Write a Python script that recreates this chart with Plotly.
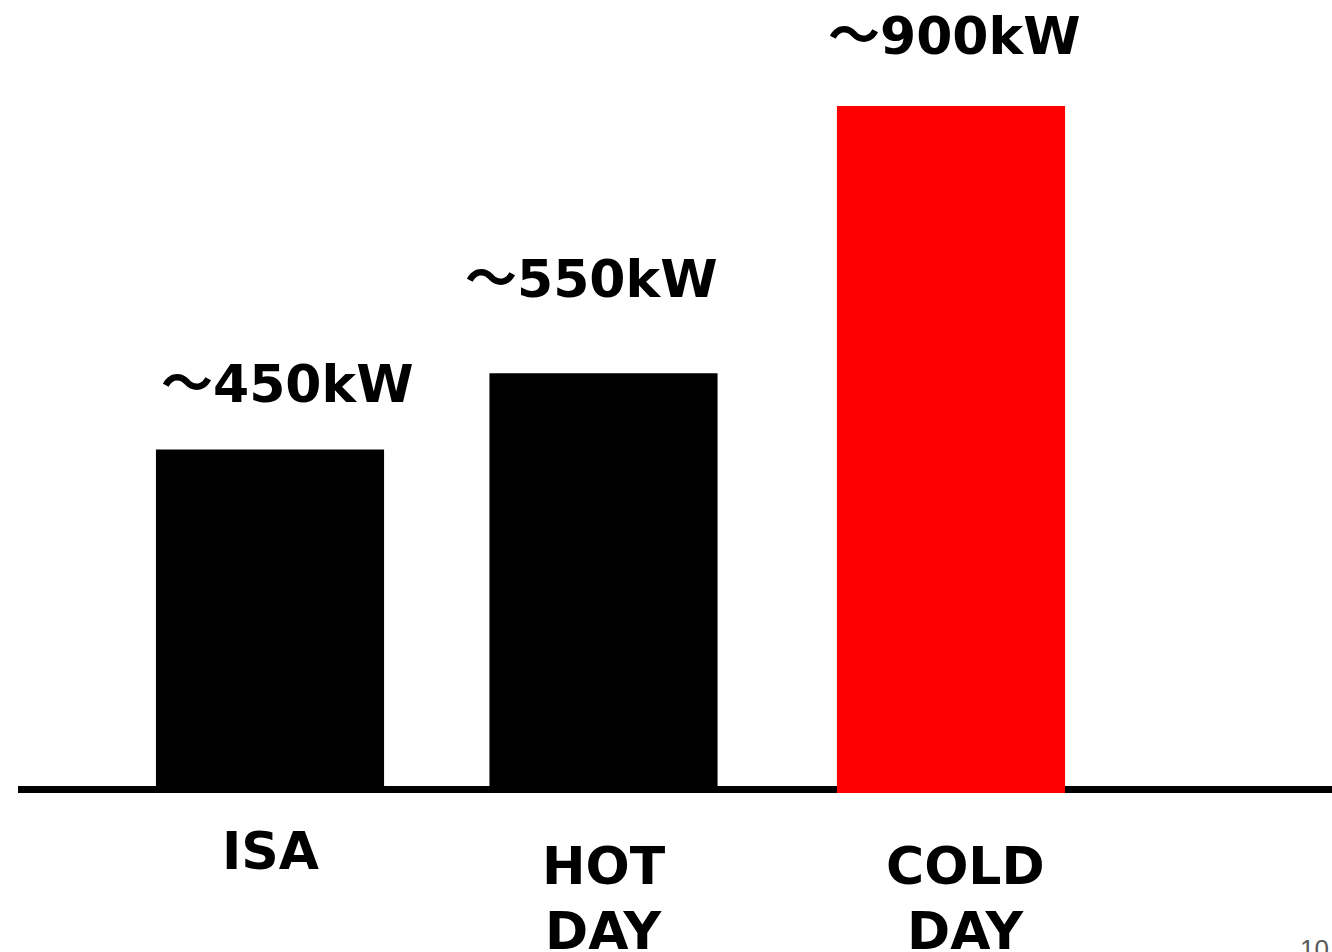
import plotly.graph_objects as go

# Power demand per operating condition
categories = ["ISA", "HOT DAY", "COLD DAY"]
power_kw = [450, 550, 900]
value_labels = ["～450kW", "～550kW", "～900kW"]
bar_colors = ["#000000", "#000000", "#ff0000"]

W, H = 1332, 952
BOTTOM = 159          # space under the baseline for the category names
PLOT_H = H - BOTTOM
Y_MAX = 1039
X_RANGE = [-0.793, 3.119]
PX_PER_CAT = W / (X_RANGE[1] - X_RANGE[0])
BAR_W = 0.67

FONT = "DejaVu Sans, Noto Sans CJK JP, sans-serif"
SIZE = 52

# small horizontal nudge of the middle bar (pixels)
bar_nudge_px = [0, -7, 0]
offsets = [-BAR_W / 2 + n / PX_PER_CAT for n in bar_nudge_px]

fig = go.Figure()
fig.add_trace(go.Bar(
    x=categories,
    y=power_kw,
    marker=dict(color=bar_colors, line=dict(width=0)),
    width=BAR_W,
    offset=offsets,
    hoverinfo="skip",
))

# value text above each bar
value_dx = [17, -19, 4]
value_dy = [34, 62, 38]
for cat, val, txt, dx, dy in zip(categories, power_kw, value_labels, value_dx, value_dy):
    fig.add_annotation(
        x=cat, y=val, text=f"<b>{txt}</b>", showarrow=False,
        xanchor="center", yanchor="bottom", xshift=dx, yshift=dy,
        font=dict(family=FONT, size=SIZE, color="#000000"),
    )

# category names under the baseline, one annotation per word
name_dx = [0, -7, 15]
name_top_px = [819, 834, 834]
LINE_STEP = 65
for cat, dx, top in zip(categories, name_dx, name_top_px):
    for i, word in enumerate(cat.split(" ")):
        y_px = top + i * LINE_STEP
        fig.add_annotation(
            x=cat, yref="paper", y=-(y_px - PLOT_H) / PLOT_H,
            text=f"<b>{word}</b>", showarrow=False,
            xanchor="center", yanchor="top", xshift=dx,
            font=dict(family=FONT, size=SIZE, color="#000000"),
        )

# page number in the corner
fig.add_annotation(
    xref="paper", yref="paper", x=1298 / W, y=-(932 - PLOT_H) / PLOT_H,
    text="10", showarrow=False, xanchor="left", yanchor="top",
    font=dict(family="Liberation Sans, Arial, sans-serif", size=26, color="#595959"),
)

# thick baseline under the bars
fig.add_shape(
    type="rect", xref="paper", x0=18 / W, x1=1,
    yref="y", ysizemode="pixel", yanchor=0, y0=-1, y1=7,
    fillcolor="#000000", line=dict(width=0), layer="below",
)

fig.update_layout(
    width=W, height=H,
    margin=dict(l=0, r=0, t=0, b=BOTTOM, pad=0),
    paper_bgcolor="#ffffff", plot_bgcolor="#ffffff",
    showlegend=False,
    xaxis=dict(range=X_RANGE, showticklabels=False, showgrid=False,
               zeroline=False, showline=False, fixedrange=True),
    yaxis=dict(range=[0, Y_MAX], showticklabels=False, showgrid=False,
               zeroline=False, showline=False, fixedrange=True),
)

fig.write_html("out.html", config={"displayModeBar": False})
